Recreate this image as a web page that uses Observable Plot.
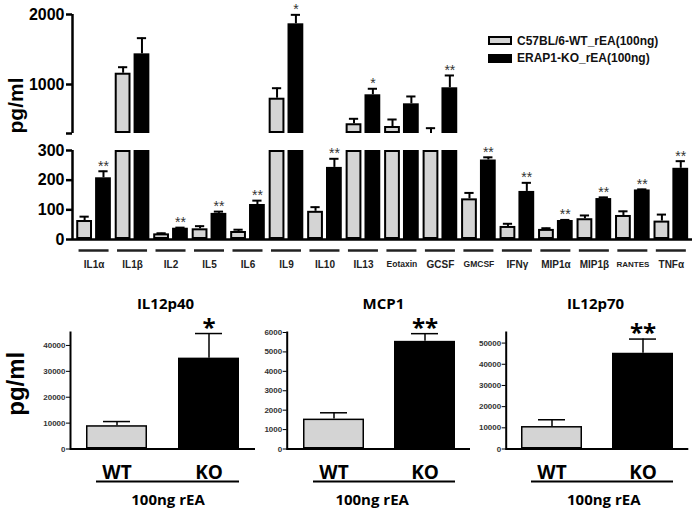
<!DOCTYPE html>
<html><head><meta charset="utf-8">
<script src="https://cdn.jsdelivr.net/npm/d3@7"></script>
<script src="https://cdn.jsdelivr.net/npm/@observablehq/plot@0.6"></script>
<style>
body{margin:0;background:#fff;}
#wrap{position:relative;width:697px;height:511px;overflow:hidden;background:#fff;font-family:"Liberation Sans",Arial,sans-serif;}
#wrap svg{position:absolute;overflow:visible;}
.legend{position:absolute;left:488px;top:32px;font-weight:bold;font-size:12px;color:#111;}
.legend .row{display:flex;align-items:center;height:17.5px;white-space:nowrap;}
.legend .sw{width:20px;height:5px;border:2px solid #000;margin-right:5px;}
g[aria-label="stars"] text{letter-spacing:2px;}
</style></head><body><div id="wrap"></div>
<script>
// ---------- data: top multiplex panel ----------
const cytokines = ["IL1α","IL1β","IL2","IL5","IL6","IL9","IL10","IL13","Eotaxin","GCSF","GMCSF","IFNγ","MIP1α","MIP1β","RANTES","TNFα"];
const wtMean = [64, 1161, 19, 36, 27, 804, 95, 439, 400, 300, 137, 44, 34, 70, 81, 62];
const wtSem  = [13, 86, 2, 9, 6, 143, 14, 71, 100, 76, 20, 9, 4, 11, 14, 22];
const koMean = [208, 1438, 38, 88, 118, 1867, 243, 853, 724, 953, 268, 162, 64, 138, 167, 240];
const koSem  = [22, 224, 2, 6, 13, 128, 29, 86, 105, 176, 9, 29, 2, 4, 2, 24];
const koSig  = ["**","","**","**","**","*","**","*","","**","**","**","**","**","**","**"];
const yTicksTop = [0, 100, 200, 300, 1000, 2000];
const seriesNames = ["C57BL/6-WT_rEA(100ng)", "ERAP1-KO_rEA(100ng)"];

// ---------- data: bottom panels ----------
const groups = ["WT", "KO"];
const panelTitles = ["IL12p40", "MCP1", "IL12p70"];
const il12p40Mean = [9000, 35100], il12p40Sem = [1600, 9500];
const mcp1Mean = [1540, 5545],     mcp1Sem = [325, 395];
const il12p70Mean = [10600, 45200], il12p70Sem = [3200, 6700];
const panelSig = ["*", "**", "**"];
const il12p40Ticks = [0, 10000, 20000, 30000, 40000];
const mcp1Ticks = [0, 1000, 2000, 3000, 4000, 5000, 6000];
const il12p70Ticks = [0, 10000, 20000, 30000, 40000, 50000];
const panelMax = [45000, 6000, 55000];
const xLabel = "100ng rEA";

// ---------- layout ----------
const WT_FILL = "#d4d4d4";
const BRK = 300, BRK2 = 300.001, YMAX = 2000;
// broken-axis transform: lower segment 0–300, a gap, upper segment 300–2000
const LOW_SPAN = 89, GAP = 17, UP_SPAN = 119;
const virt = v => v <= BRK ? v / BRK * LOW_SPAN
  : v < BRK2 ? LOW_SPAN + (v - BRK) / (BRK2 - BRK) * GAP
  : LOW_SPAN + GAP + (v - BRK2) / (YMAX - BRK2) * UP_SPAN;
const X_MIN = -0.56, X_MAX = 15.55;

const rows = [];
cytokines.forEach((c, i) => {
  rows.push({cat: c, i, grp: "WT", mean: wtMean[i], sem: wtSem[i], sig: ""});
  rows.push({cat: c, i, grp: "KO", mean: koMean[i], sem: koSem[i], sig: koSig[i]});
});
const bx1 = d => d.i + (d.grp === "WT" ? -0.45 : 0.04);
const bx2 = d => d.i + (d.grp === "WT" ? -0.04 : 0.45);
const cx = d => (bx1(d) + bx2(d)) / 2;
const hi = d => d.mean + d.sem;
const lo = d => (hi(d) > BRK && d.mean <= BRK2) ? BRK2 : d.mean;
const labelSize = d => d === "RANTES" ? 8 : (d === "Eotaxin" || d === "GMCSF") ? 8.5 : 10;

const wrap = document.getElementById("wrap");

const topChart = Plot.plot({
  width: 697, height: 275,
  marginLeft: 72, marginRight: 5, marginTop: 14, marginBottom: 36,
  x: {type: "linear", domain: [X_MIN, X_MAX], axis: null},
  y: {type: "linear", transform: virt, domain: [0, virt(YMAX)], axis: null},
  style: {fontFamily: "'Liberation Sans', Arial, sans-serif", background: "transparent", color: "#000"},
  marks: [
    Plot.rect(rows, {x1: bx1, x2: bx2, y1: 0, y2: d => Math.min(d.mean, BRK),
      fill: d => d.grp === "WT" ? WT_FILL : "#000", stroke: "#000", strokeWidth: 2, inset: 1}),
    Plot.rect(rows.filter(d => d.mean > BRK2), {x1: bx1, x2: bx2, y1: BRK2, y2: "mean",
      fill: d => d.grp === "WT" ? WT_FILL : "#000", stroke: "#000", strokeWidth: 2, inset: 1}),
    Plot.ruleX(rows, {x: cx, y1: lo, y2: hi, stroke: "#000", strokeWidth: 2}),
    Plot.ruleY(rows, {y: hi, x1: d => cx(d) - 0.12, x2: d => cx(d) + 0.12, stroke: "#000", strokeWidth: 2}),
    Plot.text(rows.filter(d => d.sig), {x: cx, y: hi, text: "sig", dy: -5, fontSize: 14,
      fill: "#333", ariaLabel: "stars"}),
    Plot.ruleY([0], {stroke: "#000", strokeWidth: 2.5}),
    Plot.ruleX([[0, BRK], [BRK2, YMAX]], {x: X_MIN, y1: d => d[0], y2: d => d[1], stroke: "#000", strokeWidth: 2.5}),
    Plot.axisY(yTicksTop, {anchor: "left", tickSize: 6, tickPadding: 2, fontSize: 16, fontWeight: "bold",
      strokeWidth: 2.5, tickFormat: "d", label: null}),
    Plot.axisY([BRK2], {anchor: "left", tickSize: 6, strokeWidth: 2.5, tickFormat: () => "", label: null}),
    Plot.text(["pg/ml"], {frameAnchor: "left", textAnchor: "middle", lineAnchor: "middle", rotate: -90,
      dx: -56, dy: -21.5, fontSize: 21, fontWeight: "bold"}),
    Plot.ruleY(cytokines, {y: 0, x1: (d, i) => i - 0.39, x2: (d, i) => i + 0.39, dy: 11, stroke: "#222", strokeWidth: 2.5}),
    Plot.text(cytokines, {x: (d, i) => i, y: 0, dy: 25, text: d => d, fontSize: labelSize, fontWeight: "bold", fill: "#222"})
  ]
});
topChart.style.left = "0px"; topChart.style.top = "0px";
wrap.appendChild(topChart);

// legend
const leg = document.createElement("div");
leg.className = "legend";
seriesNames.forEach((s, k) => {
  const r = document.createElement("div"); r.className = "row";
  const sw = document.createElement("span"); sw.className = "sw";
  sw.style.background = k === 0 ? WT_FILL : "#000";
  const t = document.createElement("span"); t.textContent = s;
  r.appendChild(sw); r.appendChild(t); leg.appendChild(r);
});
wrap.appendChild(leg);

// bottom panels
function panel(k, mean, sem, ticks, geo) {
  const data = groups.map((g, j) => ({g, mean: mean[j], sem: sem[j]}));
  const ko = data[1];
  const marks = [
    Plot.barY(data, {x: "g", y: "mean", fill: d => d.g === "WT" ? WT_FILL : "#000", stroke: "#000", strokeWidth: 1.5, inset: 0.75}),
    Plot.ruleX(data, {x: "g", y1: "mean", y2: d => d.mean + d.sem, stroke: "#000", strokeWidth: 1.5}),
    Plot.tickY(data, {x: "g", y: d => d.mean + d.sem, stroke: "#000", strokeWidth: 1.5, inset: 17}),
    Plot.text([panelSig[k]], {x: () => ko.g, y: () => ko.mean + ko.sem, dy: -5.5, fontSize: 24, fontWeight: "bold", ariaLabel: "stars"}),
    Plot.ruleY([0], {stroke: "#000", strokeWidth: 2}),
    Plot.frame({anchor: "left", stroke: "#000", strokeWidth: 2}),
    Plot.axisY(ticks, {anchor: "left", tickSize: 4, tickPadding: 1, fontSize: 8, fontWeight: "bold",
      fontFamily: "'Liberation Sans', Arial, sans-serif", fill: "#333", strokeWidth: 1, tickFormat: "d", label: null}),
    Plot.axisX({anchor: "bottom", tickSize: 0, tickPadding: 16, fontSize: 19, fontWeight: "bold", label: null}),
    Plot.ruleY([0], {x1: () => "WT", x2: () => "KO", dy: 32.5, insetLeft: 10, stroke: "#000", strokeWidth: 2}),
    Plot.text([xLabel], {frameAnchor: "bottom", lineAnchor: "middle", dx: geo.ldx, dy: 51.5, fontSize: 15, fontWeight: "bold"}),
    Plot.text([panelTitles[k]], {frameAnchor: "top", lineAnchor: "middle", dx: geo.tdx, dy: -28.7, fontSize: 15, fontWeight: "bold"})
  ];
  if (k === 0) marks.push(Plot.text(["pg/ml"], {frameAnchor: "left", textAnchor: "middle", lineAnchor: "middle",
    rotate: -90, dx: -54, dy: -7, fontSize: 24, fontWeight: "bold", fontFamily: "'Liberation Sans', Arial, sans-serif"}));
  const p = Plot.plot({
    width: geo.w, height: 221, marginLeft: geo.ml, marginRight: geo.mr, marginTop: 42, marginBottom: 62.5,
    x: {domain: groups, paddingInner: 0.335, paddingOuter: 0.17, axis: null},
    y: {domain: [0, panelMax[k]], axis: null},
    style: {fontFamily: "'Open Sans', sans-serif", background: "transparent", color: "#000"},
    marks
  });
  p.style.left = geo.left + "px"; p.style.top = "290px";
  wrap.appendChild(p);
}
panel(0, il12p40Mean, il12p40Sem, il12p40Ticks, {left: 0, w: 260, ml: 70, mr: 5, ldx: 5, tdx: 2.5});
panel(1, mcp1Mean, mcp1Sem, mcp1Ticks, {left: 230, w: 245, ml: 56.7, mr: 5, ldx: -6.7, tdx: 4.6});
panel(2, il12p70Mean, il12p70Sem, il12p70Ticks, {left: 455, w: 240, ml: 50.7, mr: 6.7, ldx: 6.3, tdx: -2});
</script></body></html>
